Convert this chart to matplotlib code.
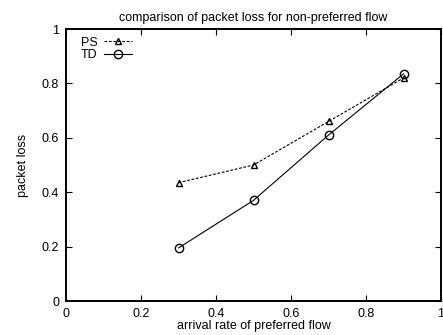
import matplotlib
matplotlib.use("Agg")
import matplotlib.pyplot as plt

plt.rcParams['font.family'] = ['Liberation Sans', 'DejaVu Sans']

arrival_rate = [0.3, 0.5, 0.7, 0.9]
loss_ps = [0.435, 0.50, 0.66, 0.82]
loss_td = [0.195, 0.37, 0.61, 0.835]
ticks = [0, 0.2, 0.4, 0.6, 0.8, 1]
tick_labels = ["0", "0.2", "0.4", "0.6", "0.8", "1"]

fig = plt.figure(figsize=(4.43, 3.35), dpi=100)
ax = fig.add_axes([66 / 443, 1 - 301 / 335, 375 / 443, 272 / 335])

ax.plot(arrival_rate, loss_ps, color='black', linestyle=(0, (2.5, 1.5)), linewidth=0.8,
        marker='^', markersize=5, markerfacecolor='none', markeredgecolor='black',
        markeredgewidth=1.0, label='PS')
ax.plot(arrival_rate, loss_td, color='black', linestyle='-', linewidth=0.8,
        marker='o', markersize=6, markerfacecolor='none', markeredgecolor='black',
        markeredgewidth=1.0, label='TD')

ax.set_xlim(0, 1)
ax.set_ylim(0, 1)
ax.set_xticks(ticks)
ax.set_xticklabels(tick_labels)
ax.set_yticks(ticks)
ax.set_yticklabels(tick_labels)
ax.tick_params(direction='in', top=True, right=True, length=4, width=0.8,
               labelsize=9, pad=5)
for s in ax.spines.values():
    s.set_linewidth(1.4)

ax.set_title("comparison of packet loss for non-preferred flow", fontsize=9, pad=6)
ax.set_xlabel("arrival rate of preferred flow", fontsize=9, labelpad=0)
ax.set_ylabel("packet loss", fontsize=9, labelpad=9)

leg = ax.legend(loc='upper left', frameon=False, fontsize=9, handlelength=2.2,
                handletextpad=0.5, borderaxespad=0.2, labelspacing=0.05,
                markerfirst=False, bbox_to_anchor=(0.02, 1.0))

fig.savefig("out.png", dpi=100)
